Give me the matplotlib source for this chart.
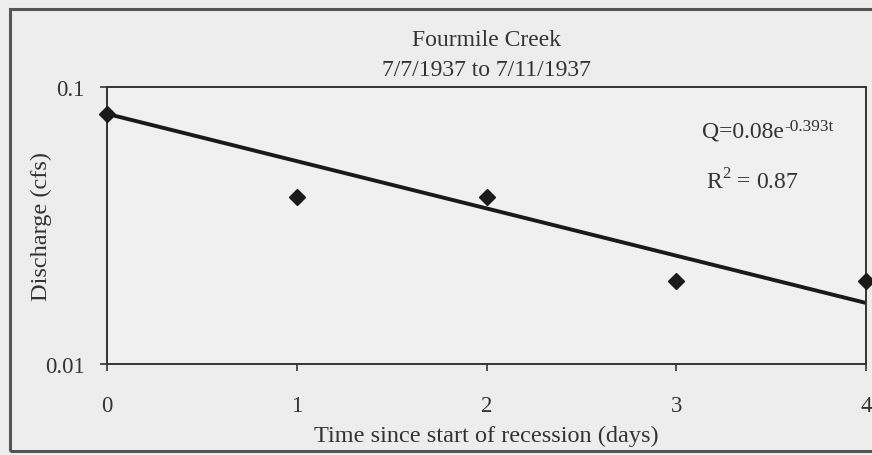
import matplotlib.pyplot as plt
import numpy as np
from matplotlib.patches import Rectangle

plt.rcParams['font.family'] = ['Liberation Serif', 'DejaVu Serif']

# recession data
days = [0, 1, 2, 3, 4]
discharge = [0.08, 0.04, 0.04, 0.02, 0.02]

# exponential fit Q = a * exp(-k t)
fit_a = 0.08
fit_k = 0.393
fit_r2 = 0.87

xticks = [0, 1, 2, 3, 4]
yticks = [0.01, 0.1]
ytick_labels = ['0.01', '0.1']

bg = '#ededed'
ink = '#333333'
W, H = 872, 456

fig = plt.figure(figsize=(W / 100, H / 100), dpi=100, facecolor=bg)
ax = fig.add_axes([107 / W, 1 - 365 / H, (866 - 107) / W, (365 - 88) / H])
ax.set_facecolor('#f0f0f0')

# outer chart frame
fig.patches.append(Rectangle((10 / W, 1 - 452 / H), 1.0, 442 / H,
                             transform=fig.transFigure, fill=False,
                             edgecolor='#555555', linewidth=2.2))

t = np.linspace(0, 4, 200)
ax.plot(t, fit_a * np.exp(-fit_k * t), color='#1a1a1a', linewidth=2.8)
ax.plot(days, discharge, linestyle='none', marker='D', markersize=8,
        color='#1a1a1a', clip_on=False, zorder=5)

ax.set_yscale('log')
ax.set_xlim(0, 4)
ax.set_ylim(0.01, 0.1)
ax.set_xticks(xticks)
ax.set_yticks(yticks)
ax.set_yticklabels(ytick_labels)
ax.minorticks_off()
ax.tick_params(direction='out', length=5, width=1.2, color=ink,
               labelsize=16.5, labelcolor=ink)
ax.tick_params(axis='x', pad=17)
ax.tick_params(axis='y', pad=11)
for s in ax.spines.values():
    s.set_color(ink)
    s.set_linewidth(1.4)

# two-line heading
fig.text(486 / W, 1 - 41 / H, 'Fourmile Creek', fontsize=17, color=ink,
         ha='center', va='center')
fig.text(486 / W, 1 - 71 / H, '7/7/1937 to 7/11/1937', fontsize=17, color=ink,
         ha='center', va='center')

ax.set_xlabel('Time since start of recession (days)', fontsize=17.5, color=ink)
ax.xaxis.set_label_coords(0.5, -0.22)
ax.set_ylabel('Discharge (cfs)', fontsize=17.5, color=ink)
ax.yaxis.set_label_coords(-0.072, 0.5)

# fitted equation, exponent set as a raised small text
eq = ax.text(0.784, 0.82, 'Q=0.08e', transform=ax.transAxes,
             fontsize=17, color=ink)
ax.annotate(f'-{fit_k:.3f}t', xy=(1.0, 1.0), xycoords=eq,
            xytext=(0, -4), textcoords='offset points',
            fontsize=12.5, color=ink, ha='left', va='center')
ax.text(0.789, 0.635, r'R$^{\mathregular{2}}$ = ' + f'{fit_r2:.2f}',
        transform=ax.transAxes, fontsize=17, color=ink)

fig.savefig('out.png', dpi=100, facecolor=bg)
